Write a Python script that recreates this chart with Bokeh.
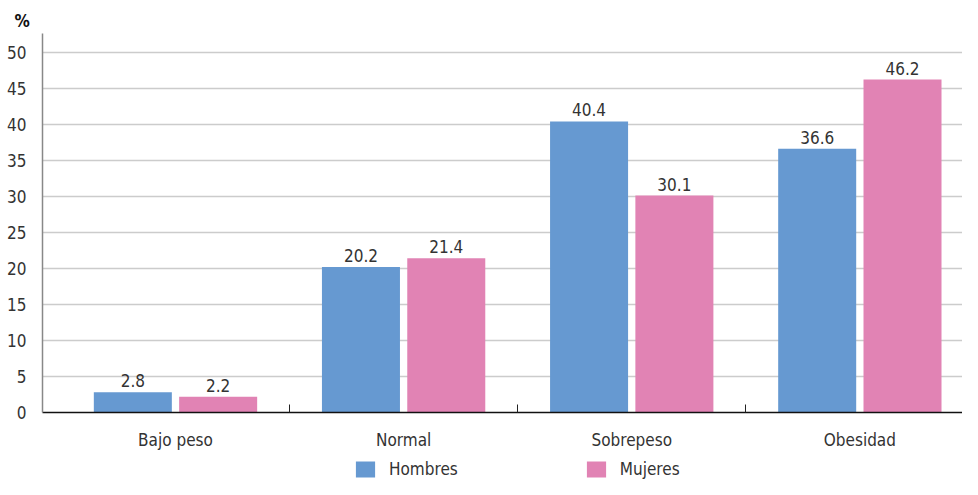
from bokeh.plotting import figure
from bokeh.models import (Range1d, FixedTicker, Legend, LegendItem, ColumnDataSource, Title)
from bokeh.layouts import column
from bokeh.core.properties import value
from bokeh.embed import file_html
from bokeh.resources import INLINE
import numpy as np

categories = ["Bajo peso", "Normal", "Sobrepeso", "Obesidad"]
hombres = [2.8, 20.2, 40.4, 36.6]
mujeres = [2.2, 21.4, 30.1, 46.2]
y_ticks = [0, 5, 10, 15, 20, 25, 30, 35, 40, 45, 50]
series_names = ["Hombres", "Mujeres"]

FONT = "DejaVu Sans Condensed"
BLUE = "#6699D1"
PINK = "#E183B4"

centers = np.arange(len(categories)) + 0.5
off = 0.187
bw = 0.342

p = figure(width=962, height=455, output_backend="svg", toolbar_location=None,
           x_range=Range1d(-0.083, 3.95), y_range=Range1d(0, 52.6),
           min_border_left=42, min_border_right=0, min_border_top=33,
           min_border_bottom=43)
p.outline_line_color = None

t = Title(text="%", align="left", offset=-28, text_font=FONT, text_font_size="17px",
          text_font_style="bold", text_color="#111111", standoff=6)
p.add_layout(t, "above")

src_h = ColumnDataSource(dict(x=centers - off, top=hombres, lab=[f"{v:.1f}" for v in hombres]))
src_m = ColumnDataSource(dict(x=centers + off, top=mujeres, lab=[f"{v:.1f}" for v in mujeres]))

rh = p.vbar(x="x", top="top", width=bw, source=src_h, fill_color=BLUE, line_color=None)
rm = p.vbar(x="x", top="top", width=bw, source=src_m, fill_color=PINK, line_color=None)

for s in (src_h, src_m):
    p.text(x="x", y="top", text="lab", source=s, text_align="center", text_baseline="bottom",
           y_offset=-5, text_font=value(FONT), text_font_size="17px", text_color="#333333")

# y axis
p.yaxis.ticker = FixedTicker(ticks=y_ticks)
p.yaxis.axis_line_color = "#888888"
p.yaxis.axis_line_width = 1.5
p.yaxis.major_tick_line_color = None
p.yaxis.minor_tick_line_color = None
p.yaxis.major_label_text_font = FONT
p.yaxis.major_label_text_font_size = "17px"
p.yaxis.major_label_text_color = "#333333"
p.yaxis.major_label_standoff = 10
p.ygrid.grid_line_color = "#CCCCCC"
p.ygrid.grid_line_width = 1.5

# x axis
p.xaxis.ticker = FixedTicker(ticks=list(centers), minor_ticks=[1, 2, 3])
p.xaxis.major_label_overrides = {float(c): n for c, n in zip(centers, categories)}
p.xaxis.major_tick_line_color = None
p.xaxis.minor_tick_in = 8
p.xaxis.minor_tick_out = 0
p.xaxis.minor_tick_line_color = "#222222"
p.xaxis.axis_line_color = "#111111"
p.xaxis.axis_line_width = 1.5
p.xaxis.major_label_text_font = FONT
p.xaxis.major_label_text_font_size = "17px"
p.xaxis.major_label_text_color = "#333333"
p.xaxis.major_label_standoff = 11
p.xgrid.grid_line_color = None

# legend strip below the chart
lf = figure(width=962, height=24, output_backend="svg", toolbar_location=None,
            x_range=Range1d(0, 1), y_range=Range1d(0, 1),
            x_axis_location=None, y_axis_location=None,
            min_border_left=0, min_border_right=0, min_border_top=0, min_border_bottom=0)
lf.grid.visible = False
lf.outline_line_color = None
# zero-height proxies (bottom == top), so nothing is drawn but the legend gets its swatches
proxy = ColumnDataSource(dict(x=[0.5], top=[0.0]))
lh = lf.vbar(x="x", top="top", bottom=0.0, width=0.1, source=proxy, fill_color=BLUE, line_color=None)
lm = lf.vbar(x="x", top="top", bottom=0.0, width=0.1, source=proxy, fill_color=PINK, line_color=None)
legend = Legend(items=[LegendItem(label=series_names[0], renderers=[lh]),
                       LegendItem(label=series_names[1], renderers=[lm])],
                orientation="horizontal", location=(311, 0),
                glyph_width=24, glyph_height=20, label_standoff=12,
                spacing=126, padding=2, margin=0, border_line_color=None,
                background_fill_alpha=0,
                label_text_font=FONT, label_text_font_size="17px", label_text_color="#333333")
lf.add_layout(legend, "center")

open("out.html", "w").write(file_html(column(p, lf), INLINE))
